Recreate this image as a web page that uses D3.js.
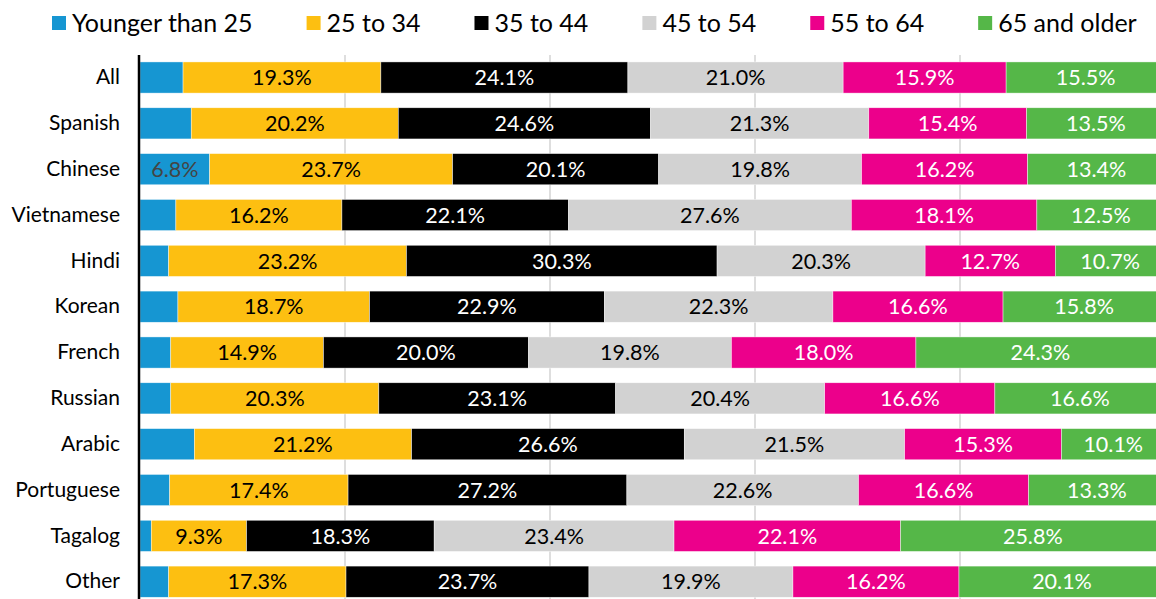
<!DOCTYPE html>
<html>
<head>
<meta charset="utf-8">
<script src="https://cdnjs.cloudflare.com/ajax/libs/d3/7.8.5/d3.min.js"></script>
<style>
  body { margin: 0; background: #fff; }
  svg { display: block; font-family: Lato, "Noto Sans", sans-serif; }
</style>
</head>
<body>
<script>
var w = 1156;
var h = 599;

// languages, top to bottom
var categories = ["All", "Spanish", "Chinese", "Vietnamese", "Hindi", "Korean",
  "French", "Russian", "Arabic", "Portuguese", "Tagalog", "Other"];

var seriesNames = ["Younger than 25", "25 to 34", "35 to 44", "45 to 54", "55 to 64", "65 and older"];

// shares in percent, one array per age group
var under25 = [4.2, 5.0, 6.8, 3.5, 2.8, 3.7, 3.0, 3.0, 5.3, 2.9, 1.1, 2.8];
var age25to34 = [19.3, 20.2, 23.7, 16.2, 23.2, 18.7, 14.9, 20.3, 21.2, 17.4, 9.3, 17.3];
var age35to44 = [24.1, 24.6, 20.1, 22.1, 30.3, 22.9, 20.0, 23.1, 26.6, 27.2, 18.3, 23.7];
var age45to54 = [21.0, 21.3, 19.8, 27.6, 20.3, 22.3, 19.8, 20.4, 21.5, 22.6, 23.4, 19.9];
var age55to64 = [15.9, 15.4, 16.2, 18.1, 12.7, 16.6, 18.0, 16.6, 15.3, 16.6, 22.1, 16.2];
var age65plus = [15.5, 13.5, 13.4, 12.5, 10.7, 15.8, 24.3, 16.6, 10.1, 13.3, 25.8, 20.1];

var gridTicks = [0, 20, 40, 60, 80, 100];

var colors = ["#1696d2", "#fdbf11", "#000000", "#d2d2d2", "#ec008b", "#55b748"];
var labelColors = ["#444444", "#000000", "#ffffff", "#000000", "#ffffff", "#ffffff"];

var allSeries = [under25, age25to34, age35to44, age45to54, age55to64, age65plus];

// build rows for d3.stack
var rows = categories.map(function(c, i) {
  var row = { category: c };
  seriesNames.forEach(function(s, j) {
    row[s] = allSeries[j][i];
  });
  return row;
});

var stacked = d3.stack().keys(seriesNames)(rows);

var x = d3.scaleLinear().domain([0, 100]).range([140, 1165]);
var y = d3.scaleBand()
  .domain(categories)
  .range([54.6, 604.6])
  .paddingInner(0.32)
  .paddingOuter(0.16);

var svg = d3.select("body")
  .append("svg")
  .attr("width", w)
  .attr("height", h);

// gridlines
svg.append("g")
  .selectAll("line")
  .data(gridTicks.slice(1))
  .enter()
  .append("line")
  .attr("x1", function(d) { return x(d); })
  .attr("x2", function(d) { return x(d); })
  .attr("y1", 55)
  .attr("y2", h)
  .style("stroke", "#dedede")
  .style("stroke-width", 2);

// bars
var groups = svg.append("g")
  .selectAll("g")
  .data(stacked)
  .enter()
  .append("g")
  .attr("fill", function(d, i) { return colors[i]; });

groups.selectAll("rect")
  .data(function(d) { return d; })
  .enter()
  .append("rect")
  .attr("x", function(d) { return x(d[0]); })
  .attr("y", function(d) { return y(d.data.category); })
  .attr("width", function(d) { return x(d[1]) - x(d[0]); })
  .attr("height", y.bandwidth())
  .style("stroke", "#fff")
  .style("stroke-width", 0.6)
  .style("stroke-opacity", 0.7);

// value labels, only where the segment is wide enough
groups.each(function(s, i) {
  d3.select(this).selectAll("text")
    .data(s.filter(function(d) { return x(d[1]) - x(d[0]) > 62; }))
    .enter()
    .append("text")
    .attr("x", function(d) { return (x(d[0]) + x(d[1])) / 2; })
    .attr("y", function(d) { return y(d.data.category) + y.bandwidth() / 2; })
    .attr("dy", "0.36em")
    .attr("text-anchor", "middle")
    .attr("fill", labelColors[i])
    .style("font-size", "21.5px")
    .text(function(d) { return (d[1] - d[0]).toFixed(1) + "%"; });
});

// category axis
var yAxis = svg.append("g")
  .attr("transform", "translate(139,0)")
  .call(d3.axisLeft(y).tickSize(0).tickPadding(19));
yAxis.select(".domain").remove();
yAxis.selectAll("text")
  .style("font-family", "Lato, sans-serif")
  .style("font-size", "21px")
  .attr("fill", "#000");

svg.append("line")
  .attr("x1", 139)
  .attr("x2", 139)
  .attr("y1", 55)
  .attr("y2", h)
  .style("stroke", "#000")
  .style("stroke-width", 2.5);

// legend
var legend = svg.append("g").attr("transform", "translate(52,0)");
var lx = 0;
seriesNames.forEach(function(s, i) {
  var item = legend.append("g").attr("transform", "translate(" + lx + ",0)");
  item.append("rect")
    .attr("x", 0)
    .attr("y", 16)
    .attr("width", 14)
    .attr("height", 14)
    .attr("fill", colors[i]);
  var t = item.append("text")
    .attr("x", 20)
    .attr("y", 32)
    .style("font-size", "25px")
    .attr("fill", "#000")
    .text(s);
  lx += 20 + t.node().getComputedTextLength() + 54;
});
</script>
</body>
</html>
